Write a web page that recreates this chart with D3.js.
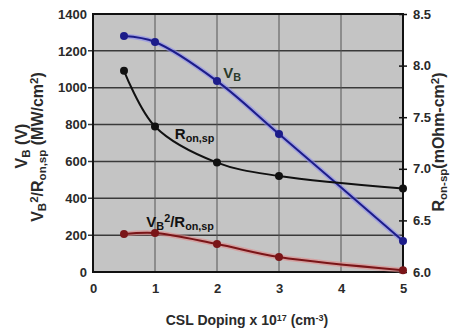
<!DOCTYPE html>
<html>
<head>
<meta charset="utf-8">
<script src="https://cdn.jsdelivr.net/npm/d3@7"></script>
<style>
  body { margin: 0; background: #fff; }
  text { font-family: "Liberation Sans", Arial, sans-serif; fill: #2a2a2a; font-weight: bold; }
</style>
</head>
<body>
<div id="chart"></div>
<script>
// data
const doping = [0.5, 1, 2, 3, 5];
const vb = [1280, 1248, 1036, 749, 168];        // V_B (V), left axis
const ronsp = [7.95, 7.41, 7.06, 6.93, 6.81];   // R_on,sp, right axis
const bfom = [206, 212, 152, 81, 10];           // V_B^2/R_on,sp, left axis
const xTicks = [0, 1, 2, 3, 4, 5];
const leftTicks = [0, 200, 400, 600, 800, 1000, 1200, 1400];
const rightTicks = [6.0, 6.5, 7.0, 7.5, 8.0, 8.5];

let margin = {top: 14, right: 51, bottom: 60, left: 93};
let width = 454 - margin.left - margin.right;
let height = 332 - margin.top - margin.bottom;

const svg = d3.select('#chart')
    .append('svg')
    .attr('width', 454)
    .attr('height', 332);

const g = svg.append('g')
    .attr('transform', `translate(${margin.left},${margin.top})`);

var x = d3.scaleLinear().domain([0, 5]).range([0, width]);
var yL = d3.scaleLinear().domain([0, 1400]).range([height, 0]);
var yR = d3.scaleLinear().domain([6, 8.5]).range([height, 0]);

// plot background
g.append('rect')
    .attr('width', width)
    .attr('height', height)
    .style('fill', '#c4c4c4');

// grid
g.selectAll('.hgrid')
    .data(leftTicks.slice(1, -1))
    .enter().append('line')
    .attr('x1', -5).attr('x2', width)
    .attr('y1', d => yL(d)).attr('y2', d => yL(d))
    .style('stroke', '#3a3a3a')
    .style('stroke-width', 1.5);

g.selectAll('.vgrid')
    .data(xTicks.slice(1, -1))
    .enter().append('line')
    .attr('x1', d => x(d)).attr('x2', d => x(d))
    .attr('y1', 0).attr('y2', height)
    .style('stroke', '#555')
    .style('stroke-width', 1);

// axes
const xAxis = d3.axisBottom(x).tickValues(xTicks).tickSize(0).tickPadding(12).tickFormat(d3.format('d'));
const leftAxis = d3.axisLeft(yL).tickValues(leftTicks).tickSize(0).tickPadding(6).tickFormat(d3.format('d'));
const rightAxis = d3.axisRight(yR).tickValues(rightTicks).tickSize(4).tickPadding(6).tickFormat(d3.format('.1f'));

g.append('g')
    .attr('transform', `translate(0,${height})`)
    .call(xAxis)
    .call(a => a.select('.domain').remove())
    .selectAll('text')
    .style('font-size', '13px');

g.append('g')
    .call(leftAxis)
    .call(a => a.select('.domain').remove())
    .selectAll('text')
    .style('font-size', '13px');

g.append('g')
    .attr('transform', `translate(${width},0)`)
    .call(rightAxis)
    .call(a => a.select('.domain').remove())
    .call(a => a.selectAll('line').attr('x1', -4).style('stroke', '#111').style('stroke-width', 1.5))
    .selectAll('text')
    .style('font-size', '13px');

// border
g.append('rect')
    .attr('width', width)
    .attr('height', height)
    .style('fill', 'none')
    .style('stroke', '#111')
    .style('stroke-width', 2);

// series
const series = [
    {vals: vb, scale: yL, color: '#1c1c8a', halo: '#8c8cf0'},
    {vals: ronsp, scale: yR, color: '#111', halo: null},
    {vals: bfom, scale: yL, color: '#7a1518', halo: '#e08a8a'}
];

series.forEach(function(s) {
    const line = d3.line()
        .x((d, i) => x(doping[i]))
        .y(d => s.scale(d))
        .curve(d3.curveCatmullRom.alpha(0.5));
    if (s.halo) {
        g.append('path')
            .datum(s.vals)
            .attr('d', line)
            .style('fill', 'none')
            .style('stroke', s.halo)
            .style('stroke-opacity', 0.6)
            .style('stroke-width', 5);
    }
    g.append('path')
        .datum(s.vals)
        .attr('d', line)
        .style('fill', 'none')
        .style('stroke', s.color)
        .style('stroke-width', 2);
    g.selectAll(null)
        .data(s.vals)
        .enter().append('circle')
        .attr('cx', (d, i) => x(doping[i]))
        .attr('cy', d => s.scale(d))
        .attr('r', 4)
        .style('fill', s.color);
});

// text with sub/superscripts
function subLabel(parent, px, py, parts, size) {
    const t = parent.append('text')
        .attr('x', px).attr('y', py)
        .style('font-size', size + 'px');
    parts.forEach(function(p) {
        const ts = t.append('tspan').text(p.t);
        if (p.sub) ts.attr('baseline-shift', '-25%').style('font-size', (size * 0.72) + 'px');
        if (p.sup) ts.attr('baseline-shift', '45%').style('font-size', (size * 0.72) + 'px');
    });
    return t;
}

// series labels
subLabel(g, x(2.1), 64, [{t: 'V'}, {t: 'B', sub: true}], 15).style('fill', '#2a3a2a');
subLabel(g, x(1.32), 125, [{t: 'R'}, {t: 'on,sp', sub: true}], 15).style('fill', '#111');
subLabel(g, x(0.86), 213, [{t: 'V'}, {t: 'B', sub: true}, {t: '2', sup: true}, {t: '/R'}, {t: 'on,sp', sub: true}], 15).style('fill', '#111');

// axis titles
svg.append('text')
    .attr('x', 247).attr('y', 325)
    .attr('text-anchor', 'middle')
    .style('font-size', '14px')
    .call(t => {
        t.append('tspan').text('CSL Doping x 10');
        t.append('tspan').text('17').attr('baseline-shift', '45%').style('font-size', '9px');
        t.append('tspan').text(' (cm');
        t.append('tspan').text('-3').attr('baseline-shift', '45%').style('font-size', '9px');
        t.append('tspan').text(')');
    });

subLabel(svg, 0, 0, [{t: 'V'}, {t: 'B', sub: true}, {t: ' (V)'}], 16)
    .attr('text-anchor', 'middle')
    .attr('transform', 'translate(27,146) rotate(-90)');

subLabel(svg, 0, 0, [{t: 'V'}, {t: 'B', sub: true}, {t: '2', sup: true}, {t: '/R'}, {t: 'on,sp', sub: true}, {t: ' (MW/cm'}, {t: '2', sup: true}, {t: ')'}], 16)
    .attr('text-anchor', 'middle')
    .attr('transform', 'translate(43,147) rotate(-90)');

subLabel(svg, 0, 0, [{t: 'R'}, {t: 'on-sp', sub: true}, {t: '(mOhm-cm'}, {t: '2', sup: true}, {t: ')'}], 16)
    .attr('text-anchor', 'middle')
    .attr('transform', 'translate(444,142) rotate(-90)');
</script>
</body>
</html>
